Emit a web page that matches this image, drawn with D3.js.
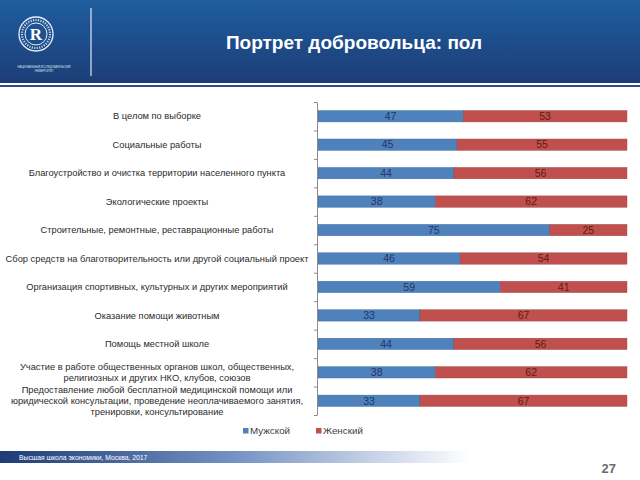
<!DOCTYPE html>
<html>
<head>
<meta charset="utf-8">
<script src="https://cdn.jsdelivr.net/npm/d3@7"></script>
<style>
  body { margin: 0; background: #fff; }
  svg { display: block; font-family: "Liberation Sans", Arial, sans-serif; }
</style>
</head>
<body>
<div class="chart"></div>
<script>
var svgWidth = 640;
var svgHeight = 480;

// data
var categories = [
  ["В целом по выборке"],
  ["Социальные работы"],
  ["Благоустройство и очистка территории населенного пункта"],
  ["Экологические проекты"],
  ["Строительные, ремонтные, реставрационные работы"],
  ["Сбор средств на благотворительность или другой социальный проект"],
  ["Организация спортивных, культурных и других мероприятий"],
  ["Оказание помощи животным"],
  ["Помощь местной школе"],
  ["Участие в работе общественных органов школ, общественных,", "религиозных и других НКО, клубов, союзов"],
  ["Предоставление любой бесплатной медицинской помощи или", "юридической консультации, проведение неоплачиваемого занятия,", "тренировки, консультирование"]
];
var male = [47, 45, 44, 38, 75, 46, 59, 33, 44, 38, 33];
var female = [53, 55, 56, 62, 25, 54, 41, 67, 56, 62, 67];
var seriesNames = ["Мужской", "Женский"];
var seriesColors = ["#4f81bd", "#c0504d"];
var seriesText = ["#1f3764", "#5e1a18"];

var title = "Портрет добровольца: пол";
var footer = "Высшая школа экономики, Москва, 2017";
var pageNo = "27";

var margin = { top: 102, right: 13, bottom: 65, left: 318 };
var width = svgWidth - margin.left - margin.right;
var height = svgHeight - margin.top - margin.bottom;

var svg = d3.select(".chart")
  .append("svg")
  .attr("width", svgWidth)
  .attr("height", svgHeight);

var defs = svg.append("defs");

var hdr = defs.append("linearGradient").attr("id", "hdr")
  .attr("x1", 0).attr("y1", 0).attr("x2", 0).attr("y2", 1);
hdr.append("stop").attr("offset", "0%").attr("stop-color", "#1f5d9f");
hdr.append("stop").attr("offset", "100%").attr("stop-color", "#1c3d77");

var ftr = defs.append("linearGradient").attr("id", "ftr")
  .attr("x1", 0).attr("y1", 0).attr("x2", 1).attr("y2", 0);
ftr.append("stop").attr("offset", "0%").attr("stop-color", "#1d3c78");
ftr.append("stop").attr("offset", "50%").attr("stop-color", "#7592c4");
ftr.append("stop").attr("offset", "100%").attr("stop-color", "#ffffff");

// header band
svg.append("rect").attr("x", 0).attr("y", 0).attr("width", svgWidth).attr("height", 83)
  .attr("fill", "url(#hdr)");
svg.append("rect").attr("x", 0).attr("y", 85).attr("width", svgWidth).attr("height", 2)
  .attr("fill", "#2a4f8c");

// logo
var logo = svg.append("g").attr("transform", "translate(36,34)");
logo.append("circle").attr("r", 17).attr("fill", "none").attr("stroke", "#e8eef7").attr("stroke-width", 1.3);
logo.append("circle").attr("r", 11).attr("fill", "none").attr("stroke", "#e8eef7").attr("stroke-width", 1);
logo.append("circle").attr("r", 14).attr("fill", "none").attr("stroke", "#c9d6ea")
  .attr("stroke-width", 2.2).attr("stroke-dasharray", "1.2 1.3");
logo.append("text").attr("y", 6).attr("text-anchor", "middle")
  .attr("font-size", 17).attr("font-weight", "bold").attr("font-family", "Liberation Serif, serif")
  .attr("fill", "#ffffff").text("R");
svg.append("text").attr("x", 44).attr("y", 68).attr("text-anchor", "middle")
  .attr("font-size", 2.6).attr("fill", "#dfe7f3").text("НАЦИОНАЛЬНЫЙ ИССЛЕДОВАТЕЛЬСКИЙ");
svg.append("text").attr("x", 44).attr("y", 71.5).attr("text-anchor", "middle")
  .attr("font-size", 2.6).attr("fill", "#dfe7f3").text("УНИВЕРСИТЕТ");
svg.append("line").attr("x1", 91).attr("x2", 91).attr("y1", 8).attr("y2", 76)
  .attr("stroke", "#dfe7f3").attr("stroke-width", 1.2);

svg.append("text")
  .attr("x", 354).attr("y", 49)
  .attr("text-anchor", "middle")
  .attr("font-size", 19).attr("font-weight", "bold")
  .attr("fill", "#ffffff")
  .text(title);

// chart
var chart = svg.append("g")
  .attr("transform", "translate(" + margin.left + "," + margin.top + ")");

var y = d3.scaleBand()
  .domain(d3.range(categories.length))
  .range([0, height])
  .paddingInner(0.6)
  .paddingOuter(0.3);

var yTicks = d3.scaleLinear()
  .domain([0, categories.length])
  .range([0, height]);

var x = d3.scaleLinear()
  .domain([0, 100])
  .range([0, width]);

var rows = categories.map(function(c, i) {
  return { i: i, parts: [male[i], female[i]] };
});

var row = chart.selectAll(".row")
  .data(rows)
  .enter().append("g")
  .attr("class", "row")
  .attr("transform", function(d) { return "translate(0," + y(d.i) + ")"; });

row.each(function(d) {
  var g = d3.select(this);
  var start = 0;
  d.parts.forEach(function(v, k) {
    g.append("rect")
      .attr("x", x(start))
      .attr("y", 0)
      .attr("width", x(start + v) - x(start))
      .attr("height", y.bandwidth())
      .attr("fill", seriesColors[k])
      .attr("stroke", d3.color(seriesColors[k]).darker(0.6))
      .attr("stroke-width", 0.4);
    g.append("text")
      .attr("x", x(start + v / 2))
      .attr("y", y.bandwidth() / 2)
      .attr("dy", "0.36em")
      .attr("text-anchor", "middle")
      .attr("font-size", 10.5)
      .attr("fill", seriesText[k])
      .text(v);
    start += v;
  });
});

// category axis
var leftAxis = d3.axisLeft(yTicks)
  .tickValues(d3.range(categories.length + 1))
  .tickFormat("")
  .tickSize(3)
  .tickSizeOuter(0);

var axisG = chart.append("g")
  .attr("transform", "translate(-1,0)")
  .call(leftAxis);
axisG.selectAll("path, line").attr("stroke", "#8c8c8c");

// category labels
var lineH = 10.8;
chart.selectAll(".cat")
  .data(categories)
  .enter().append("text")
  .attr("class", "cat")
  .attr("x", 157 - margin.left)
  .attr("text-anchor", "middle")
  .attr("font-size", 9.3)
  .attr("fill", "#2b2b2b")
  .each(function(parts, i) {
    var t = d3.select(this);
    var cy = y(i) + y.bandwidth() / 2 - (parts.length - 1) * lineH / 2;
    parts.forEach(function(p, k) {
      t.append("tspan")
        .attr("x", 157 - margin.left)
        .attr("y", cy + k * lineH)
        .attr("dy", "0.35em")
        .text(p);
    });
  });

// legend
var legend = svg.append("g").attr("transform", "translate(243,431)");
var lx = [0, 73];
seriesNames.forEach(function(name, k) {
  legend.append("rect")
    .attr("x", lx[k]).attr("y", -3)
    .attr("width", 5.5).attr("height", 5.5)
    .attr("fill", seriesColors[k]);
  legend.append("text")
    .attr("x", lx[k] + 7).attr("y", 0)
    .attr("dy", "0.35em")
    .attr("font-size", 9.8)
    .attr("fill", "#404040")
    .text(name);
});

// footer
svg.append("rect").attr("x", 0).attr("y", 451).attr("width", 470).attr("height", 12)
  .attr("fill", "url(#ftr)");
svg.append("text").attr("x", 19).attr("y", 459.5)
  .attr("font-size", 6.8).attr("fill", "#ffffff").text(footer);
svg.append("text").attr("x", 616).attr("y", 473)
  .attr("text-anchor", "end")
  .attr("font-size", 13).attr("font-weight", "bold")
  .attr("fill", "#6b6b6b").text(pageNo);
</script>
</body>
</html>
